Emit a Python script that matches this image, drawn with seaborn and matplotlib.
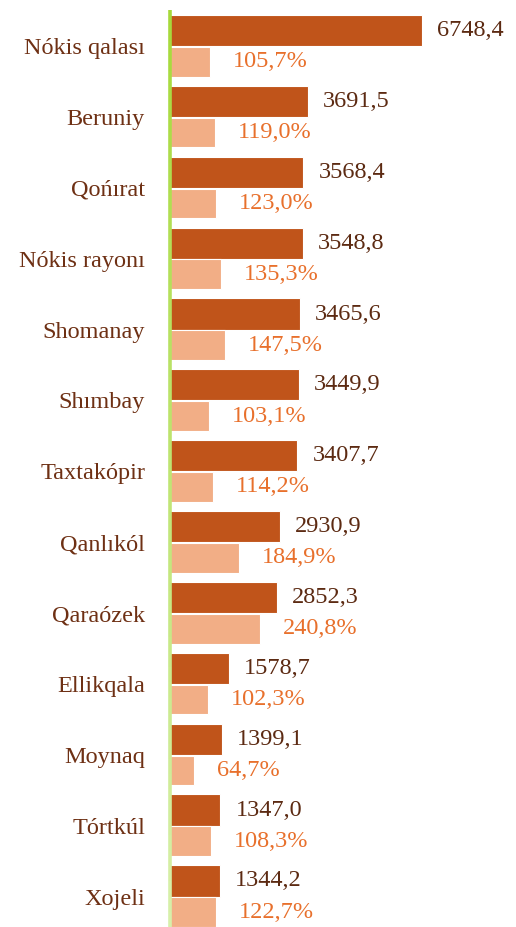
import numpy as np
import pandas as pd
import matplotlib
matplotlib.use("Agg")
import matplotlib.pyplot as plt
import seaborn as sns
from matplotlib.collections import LineCollection
from matplotlib.colors import LinearSegmentedColormap

# ==========================
# DATA
# ==========================

districts = ["Nókis qalası", "Beruniy", "Qońırat", "Nókis rayonı", "Shomanay",
             "Shımbay", "Taxtakópir", "Qanlıkól", "Qaraózek", "Ellikqala",
             "Moynaq", "Tórtkúl", "Xojeli"]
volume = [6748.4, 3691.5, 3568.4, 3548.8, 3465.6, 3449.9, 3407.7,
          2930.9, 2852.3, 1578.7, 1399.1, 1347.0, 1344.2]
growth = [105.7, 119.0, 123.0, 135.3, 147.5, 103.1, 114.2,
          184.9, 240.8, 102.3, 64.7, 108.3, 122.7]

df = pd.DataFrame({"district": districts, "volume": volume, "growth": growth})

dark = "#C0541A"
light = "#F2AE86"
label_col = "#6E3014"
val_col = "#5C2A12"
pct_col = "#E8702C"

sns.set_style("white")
plt.rcParams["font.family"] = ["Liberation Serif", "DejaVu Serif"]

fig = plt.figure(figsize=(5.16, 9.27), dpi=100)
ax = fig.add_axes([170 / 516, 0, 346 / 516, 917 / 927])
ax2 = ax.twiny()

y = np.arange(len(df))
h_dark = 0.44
h_light = 0.42

ax.barh(y - h_dark / 2, df["volume"], height=h_dark, color=dark,
        edgecolor="white", linewidth=0.8)
ax2.barh(y + 0.01 + h_light / 2, df["growth"], height=h_light, color=light,
         edgecolor="white", linewidth=0.8)

xmax = 9250
ax.set_xlim(0, xmax)
ax2.set_xlim(0, xmax / 10)
ax.set_ylim(12.43, -0.51)
ax2.set_ylim(12.43, -0.51)

fs = 17.5
for i, (v, g) in enumerate(zip(df["volume"], df["growth"])):
    ax.annotate(f"{v:.1f}".replace(".", ","), (v, i - h_dark / 2),
                xytext=(15, 0), textcoords="offset pixels",
                va="center", ha="left", fontsize=fs, color=val_col)
    ax2.annotate(f"{g:.1f}%".replace(".", ","), (g, i + 0.01 + h_light / 2),
                 xytext=(23, 0), textcoords="offset pixels",
                 va="center", ha="left", fontsize=fs, color=pct_col)

ax.set_yticks(y)
ax.set_yticklabels(df["district"], fontsize=fs, color=label_col)
ax.tick_params(axis="y", length=0, pad=18)
ax.set_xticks([])
ax2.set_xticks([])
for a in (ax, ax2):
    for s in a.spines.values():
        s.set_visible(False)

# green axis line fading downward
n = 60
ys = np.linspace(1, 0, n + 1)
segs = [[(0, ys[k]), (0, ys[k + 1])] for k in range(n)]
cmap = LinearSegmentedColormap.from_list("g", ["#A6D93A", "#D8F0AC"])
lc = LineCollection(segs, colors=[cmap(k / n) for k in range(n)],
                    linewidths=2.6, transform=ax.transAxes, clip_on=False,
                    zorder=5)
ax2.add_collection(lc)

fig.savefig("out.png", dpi=100)
